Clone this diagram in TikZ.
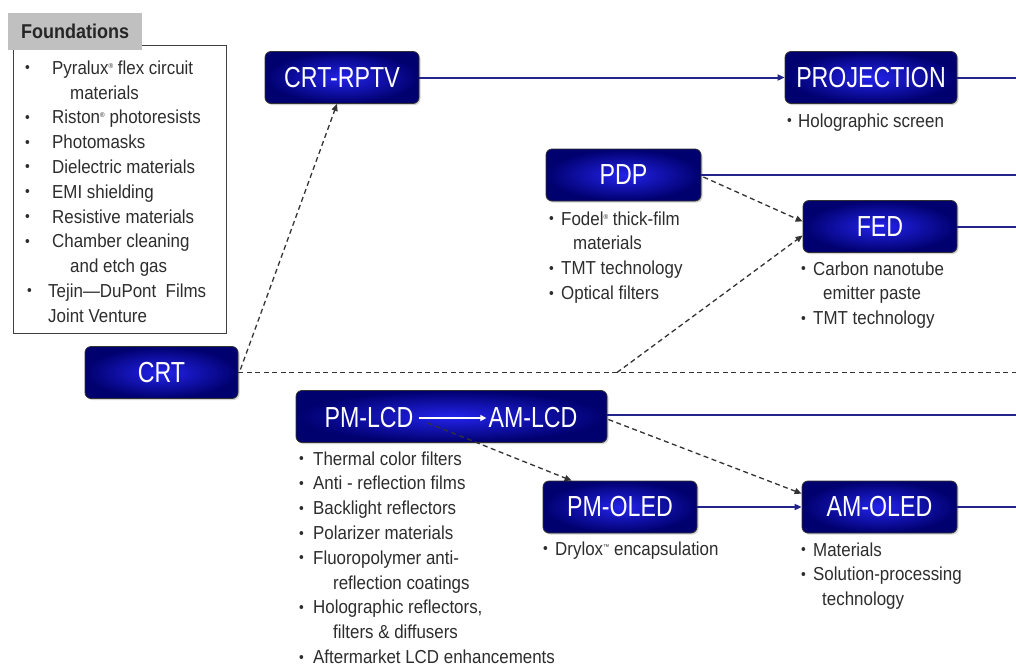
\documentclass[tikz,border=0pt]{standalone}
\usepackage{fontspec}
\setmainfont{Liberation Sans}
\newfontfamily\labfont[FakeStretch=0.8]{Liberation Sans}
\newfontfamily\txtfont[FakeStretch=0.9]{Liberation Sans}
\usetikzlibrary{arrows.meta,shadows,calc}
\definecolor{navyedge}{RGB}{0,0,110}
\definecolor{navycore}{RGB}{35,35,235}
\definecolor{linkblue}{RGB}{35,35,140}
\definecolor{txtgray}{RGB}{45,45,45}
\definecolor{hdrgray}{RGB}{192,192,192}
\newcommand\bul[1]{\makebox[#1][l]{\raisebox{1.5pt}{\fontsize{15}{15}\selectfont\textbullet}}}
\newcommand\regm{\raisebox{6pt}{\fontsize{7}{7}\selectfont ®}}
\newcommand\tmm{\raisebox{6pt}{\fontsize{7}{7}\selectfont ™}}
\begin{document}
\begin{tikzpicture}[x=1pt,y=-1pt,
  techbox/.style={rounded corners=6pt, draw=black!80, line width=0.8pt,
    inner color=navycore, outer color=navyedge, minimum height=52pt, inner sep=0pt,
    text=white, font=\labfont\fontsize{29}{29}\selectfont,
    drop shadow={shadow xshift=1.5pt, shadow yshift=-1.5pt, opacity=0.35}},
  boxlabel/.style={text=white, font=\labfont\fontsize{29}{29}\selectfont, inner sep=0pt},
  blist/.style={anchor=north west, inner sep=0pt, align=left, text=txtgray,
    font=\txtfont\fontsize{18.8}{24.8}\selectfont},
  link/.style={draw=linkblue, line width=2pt},
  dlink/.style={draw=black!80, line width=1.3pt, dash pattern=on 5pt off 3.5pt},
  tip/.style={-{Triangle[length=7pt,width=6pt]}}
]
\useasboundingbox[fill=white] (0,0) rectangle (1016,667);

% Foundations
\node[draw=black!75, line width=1.2pt, anchor=north west, minimum width=213pt,
      minimum height=288pt, inner sep=0pt, fill=white] (fbox) at (13,45) {};
\node[fill=hdrgray, anchor=north west, minimum width=134pt, minimum height=37pt,
      inner sep=0pt, font=\txtfont\bfseries\fontsize{20}{20}\selectfont, text=black!85] (fhead) at (8,13) {Foundations};
\node[blist] (flist) at (25,56.64) {%
\strut\bul{27pt}Pyralux\regm{} flex circuit\\
\strut\hspace*{45pt}materials\\
\strut\bul{27pt}Riston\regm{} photoresists\\
\strut\bul{27pt}Photomasks\\
\strut\bul{27pt}Dielectric materials\\
\strut\bul{27pt}EMI shielding\\
\strut\bul{27pt}Resistive materials\\
\strut\bul{27pt}Chamber cleaning\\
\strut\hspace*{45pt}and etch gas\\
\strut\hspace*{2pt}\bul{21pt}Tejin—DuPont\ \ Films\\
\strut\hspace*{23pt}Joint Venture};

% boxes
\node[techbox, minimum width=153pt] (crt) at (161.5,372.5) {CRT};
\node[techbox, minimum width=154pt] (rptv) at (342,77.5) {CRT-RPTV};
\node[techbox, minimum width=172pt] (proj) at (871,77.5) {PROJECTION};
\node[techbox, minimum width=155pt] (pdp) at (623.5,175) {PDP};
\node[techbox, minimum width=154pt] (fed) at (880,226.5) {FED};
\node[techbox, minimum width=311pt] (lcd) at (451.5,416.5) {};
\node[boxlabel] (pmlcd) at (369,418) {PM-LCD};
\node[boxlabel] (amlcd) at (533,418) {AM-LCD};
\node[techbox, minimum width=154pt] (pmoled) at (620,507) {PM-OLED};
\node[techbox, minimum width=155pt] (amoled) at (879.5,507) {AM-OLED};

% lists
\node[blist] (projlist) at (787,109.6) {\strut\bul{11pt}Holographic screen};
\node[blist] (pdplist) at (549,207.6) {%
\strut\bul{12pt}Fodel\regm{} thick-film\\
\strut\hspace*{24pt}materials\\
\strut\bul{12pt}TMT technology\\
\strut\bul{12pt}Optical filters};
\node[blist] (fedlist) at (801,257.6) {%
\strut\bul{12pt}Carbon nanotube\\
\strut\hspace*{22pt}emitter paste\\
\strut\bul{12pt}TMT technology};
\node[blist] (lcdlist) at (299,447.6) {%
\strut\bul{14pt}Thermal color filters\\
\strut\bul{14pt}Anti - reflection films\\
\strut\bul{14pt}Backlight reflectors\\
\strut\bul{14pt}Polarizer materials\\
\strut\bul{14pt}Fluoropolymer anti-\\
\strut\hspace*{34pt}reflection coatings\\
\strut\bul{14pt}Holographic reflectors,\\
\strut\hspace*{34pt}filters \& diffusers\\
\strut\bul{14pt}Aftermarket LCD enhancements};
\node[blist] (pmolist) at (543,537.6) {\strut\bul{12pt}Drylox\tmm{} encapsulation};
\node[blist] (amolist) at (801,538.6) {%
\strut\bul{12pt}Materials\\
\strut\bul{12pt}Solution-processing\\
\strut\hspace*{21pt}technology};

% free ends
\coordinate (eproj) at (1016,77.5);
\coordinate (epdp) at (1016,175);
\coordinate (efed) at (1016,226.5);
\coordinate (ecrt) at (1016,372.5);
\coordinate (elcd) at (1016,415);
\coordinate (eamo) at (1016,507);
\coordinate (split) at (617,372.5);

% solid connectors
\draw[link,tip] (rptv.east) -- (proj.west);
\draw[link] (proj.east) -- (eproj);
\draw[link] (pdp.east) -- (epdp);
\draw[link] (fed.east) -- (efed);
\draw[link] (lcd.east |- elcd) -- (elcd);
\draw[link] (amoled.east) -- (eamo);
\draw[link,tip] (pmoled.east) -- (amoled.west);
\draw[draw=white, line width=1.5pt, -{Triangle[length=6pt,width=6pt]}] (pmlcd.east) ++(5,0) -- ($(amlcd.west)+(-2,0)$);

% dashed connectors
\draw[dlink] (crt.east) -- (ecrt);
\draw[dlink,tip] ($(crt.east)+(2,-3)$) -- ($(rptv.south)+(-5,0)$);
\draw[dlink,tip] ($(pdp.east)+(2,2)$) -- ($(fed.west)+(0,-5)$);
\draw[dlink,tip] (split) -- ($(fed.west)+(0,9)$);
\draw[dlink,tip] ($(pmlcd.east)+(14,5)$) -- ($(pmoled.north west)+(29,0)$);
\draw[dlink,tip] ($(lcd.east)+(1,3)$) -- ($(amoled.north west)+(0,13)$);
\end{tikzpicture}
\end{document}
